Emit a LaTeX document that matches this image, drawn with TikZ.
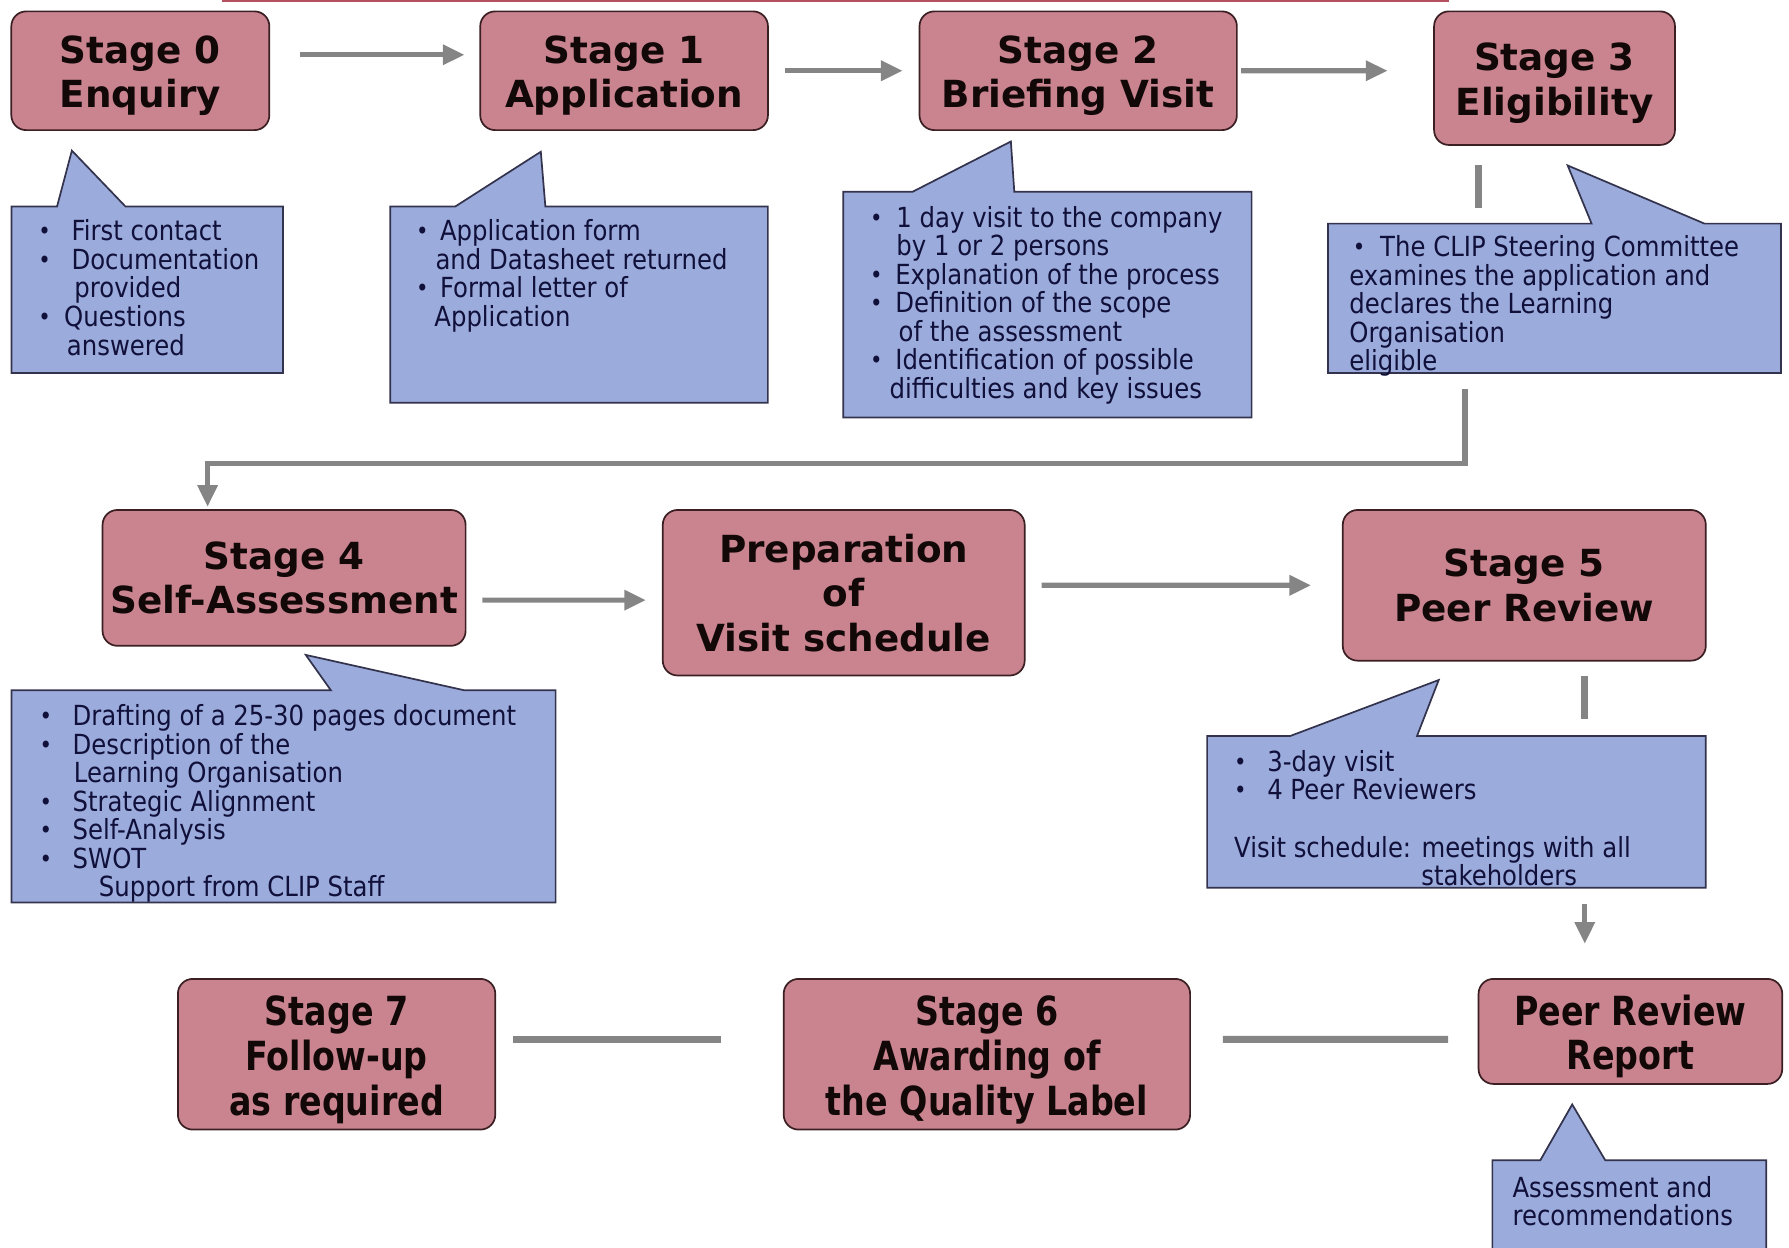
\documentclass[tikz,border=0pt]{standalone}
\usepackage{fontspec}
\usetikzlibrary{arrows.meta}
\setmainfont{DejaVu Sans}
\newfontfamily\titlefam{DejaVu Sans}
\newfontfamily\lowtitlefam{DejaVu Sans}[FakeStretch=0.83]
\newfontfamily\notefam{DejaVu Sans}[FakeStretch=0.88]
\newcommand{\stagefont}{\titlefam\bfseries\fontsize{9.3}{11.1}\selectfont}
\newcommand{\lowstagefont}{\lowtitlefam\bfseries\fontsize{10}{11.2}\selectfont}
\newcommand{\notefont}{\notefam\fontsize{6.9}{7.11}\selectfont}
\newcommand{\itemdot}[1]{\makebox[#1][l]{\raisebox{.3pt}{\fontsize{6}{6}\selectfont\textbullet}}}
\newcommand{\topgap}{\rule{0pt}{9.3pt}}
\newcommand{\lowgap}{\rule{0pt}{10.1pt}}
\definecolor{stagefill}{HTML}{C98490}
\definecolor{stageline}{HTML}{3B1F22}
\definecolor{stagetext}{HTML}{120808}
\definecolor{notefill}{HTML}{9BABDB}
\definecolor{noteline}{HTML}{33334D}
\definecolor{notetext}{HTML}{10103A}
\definecolor{flowgrey}{HTML}{858585}
\definecolor{topred}{HTML}{B4505F}

\begin{document}
\begin{tikzpicture}[x=0.01cm, y=-0.01cm,
                stage/.style={draw=stageline, fill=stagefill, line width=.015cm, rounded corners=.13cm, align=center, inner sep=0, text=stagetext, font=\stagefont},
                lowstage/.style={stage, font=\lowstagefont},
                bubble/.style={draw=noteline, fill=notefill, line width=.015cm},
                note/.style={anchor=north west, inner sep=0, align=left, text=notetext, font=\notefont},
                flow/.style={draw=flowgrey, line width=.045cm, -{Triangle[length=.19cm, width=.17cm]}},
                link/.style={draw=flowgrey, line width=.06cm}]
                \useasboundingbox (0,0) rectangle (1568,1093);
                \clip (0,0) rectangle (1568,1093);
                \draw[topred, line width=.02cm] (195,1) -- (1270,1);
                \node[stage, minimum width=2.26cm, minimum height=1.04cm] (s0) at (123,62) {\topgap Stage 0\\Enquiry};
                \node[stage, minimum width=2.52cm, minimum height=1.04cm] (s1) at (547,62) {\topgap Stage 1\\Application};
                \node[stage, minimum width=2.78cm, minimum height=1.04cm] (s2) at (945,62) {\topgap Stage 2\\Briefing Visit};
                \node[stage, minimum width=2.11cm, minimum height=1.17cm] (s3) at (1362.5,68.5) {\topgap Stage 3\\Eligibility};
                \node[stage, minimum width=3.18cm, minimum height=1.19cm] (s4) at (249,506.5) {Stage 4\\Self-Assessment};
                \node[stage, minimum width=3.17cm, minimum height=1.45cm] (prep) at (739.5,519.5) {Preparation\\of\\Visit schedule};
                \node[stage, minimum width=3.18cm, minimum height=1.32cm] (s5) at (1336,513) {Stage 5\\Peer Review};
                \node[lowstage, minimum width=2.66cm, minimum height=.92cm] (report) at (1429,904) {\lowgap Peer Review\\Report};
                \node[lowstage, minimum width=3.56cm, minimum height=1.32cm] (s6) at (865,924) {\lowgap Stage 6\\Awarding of\\the Quality Label};
                \node[lowstage, minimum width=2.78cm, minimum height=1.32cm] (s7) at (295,924) {\lowgap Stage 7\\Follow-up\\as required};
                \draw[bubble] (10,181) -- (50,181) -- (63,132) -- (110,181) -- (248,181) -- (248,327) -- (10,327) -- cycle;
                \draw[bubble] (342,181) -- (399,181) -- (474,133) -- (478,181) -- (673,181) -- (673,353) -- (342,353) -- cycle;
                \draw[bubble] (739,168) -- (800,168) -- (886,124) -- (889,168) -- (1097,168) -- (1097,366) -- (739,366) -- cycle;
                \draw[bubble] (1164,196) -- (1395,196) -- (1374,145) -- (1494,196) -- (1561,196) -- (1561,327) -- (1164,327) -- cycle;
                \draw[bubble] (10,605) -- (290,605) -- (268,574) -- (407,605) -- (487,605) -- (487,791) -- (10,791) -- cycle;
                \draw[bubble] (1058,645) -- (1131,645) -- (1261,596) -- (1242,645) -- (1495,645) -- (1495,778) -- (1058,778) -- cycle;
                \draw[bubble] (1308,1017) -- (1350,1017) -- (1378,968) -- (1407,1017) -- (1548,1017) -- (1548,1110) -- (1308,1110) -- cycle;
                \node[note] (n0) at (33,192) {\itemdot{.29cm}First contact\\\itemdot{.29cm}Documentation\\\hspace*{.315cm}provided\\\itemdot{.225cm}Questions\\\hspace*{.25cm}answered};
                \node[note] (n1) at (364,192) {\itemdot{.21cm}Application form\\\hspace*{.17cm}and Datasheet returned\\\itemdot{.21cm}Formal letter of\\\hspace*{.16cm}Application};
                \node[note] (n2) at (762,180) {\itemdot{.23cm}1 day visit to the company\\\hspace*{.23cm}by 1 or 2 persons\\\itemdot{.22cm}Explanation of the process\\\itemdot{.22cm}Definition of the scope\\\hspace*{.25cm}of the assessment\\\itemdot{.22cm}Identification of possible\\\hspace*{.17cm}difficulties and key issues};
                \node[note] (n3) at (1185,206) {\itemdot{.24cm}The CLIP Steering Committee\\\hspace*{-.03cm}examines the application and\\\hspace*{-.03cm}declares the Learning\\\hspace*{-.03cm}Organisation\\\hspace*{-.03cm}eligible};
                \node[note] (n4) at (34,617) {\itemdot{.29cm}Drafting of a 25-30 pages document\\\itemdot{.29cm}Description of the\\\hspace*{.30cm}Learning Organisation\\\itemdot{.29cm}Strategic Alignment\\\itemdot{.29cm}Self-Analysis\\\itemdot{.29cm}SWOT\\\hspace*{.52cm}Support from CLIP Staff};
                \node[note] (n5) at (1081,657) {\itemdot{.29cm}3-day visit\\\itemdot{.29cm}4 Peer Reviewers\\[.25cm]Visit schedule: meetings with all\\\hspace*{1.64cm}stakeholders};
                \node[note] (n6) at (1325,1030) {Assessment and\\recommendations};
                \coordinate (cut3) at (1296,182);
                \coordinate (from3) at (1284,341);
                \coordinate (cut5) at (1389,630);
                \coordinate (from5) at (1389,792);
                \draw[flow, shorten <=.26cm, shorten >=.13cm] ([yshift=.14cm]s0.east) -- ([yshift=.14cm]s1.west);
                \draw[flow, shorten <=.14cm, shorten >=.14cm] (s1.east) -- (s2.west);
                \draw[flow, shorten <=.03cm, shorten >=.40cm] (s2.east) -- ([yshift=.065cm]s3.west);
                \draw[link, shorten <=.17cm] (s3.south -| cut3) -- (cut3);
                \draw[flow, shorten >=.02cm] (from3) -- ++(0,65) -| ([xshift=-.67cm]s4.north);
                \draw[flow, shorten <=.14cm, shorten >=.14cm] ([yshift=-.195cm]s4.east) -- ([yshift=-.065cm]prep.west);
                \draw[flow, shorten <=.14cm, shorten >=.27cm] ([yshift=.065cm]prep.east) -- (s5.west);
                \draw[link, shorten <=.13cm] (s5.south -| cut5) -- (cut5);
                \draw[flow, shorten >=.30cm] (from5) -- (report.north -| from5);
                \draw[link, shorten <=.26cm, shorten >=.28cm] ([yshift=-.07cm]report.west) -- ([yshift=.13cm]s6.east);
                \draw[link, shorten <=.54cm, shorten >=.15cm] ([yshift=.13cm]s6.west) -- ([yshift=.13cm]s7.east);
            \end{tikzpicture}
\end{document}
